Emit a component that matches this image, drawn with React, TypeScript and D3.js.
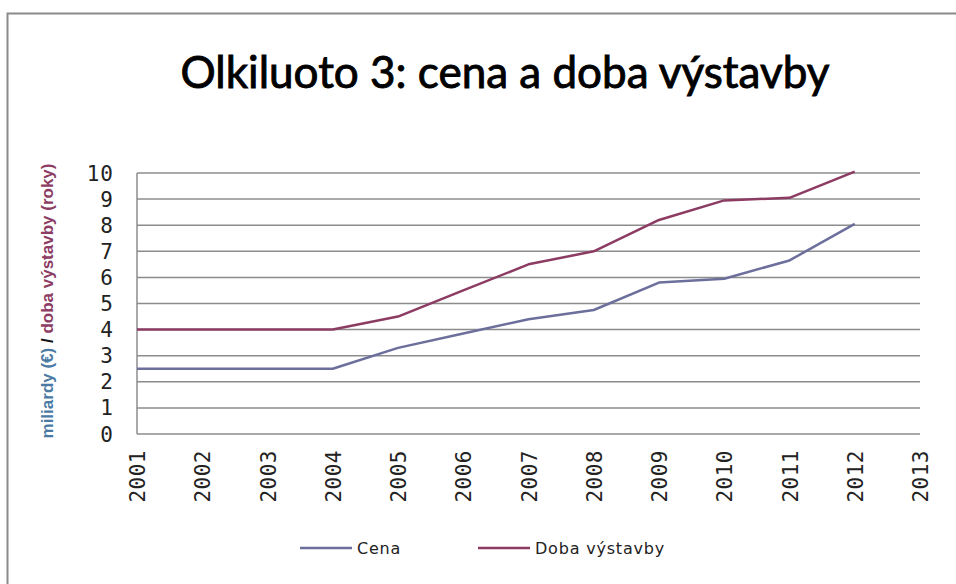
import React from "react";
import * as d3 from "d3";

const years = ["2001","2002","2003","2004","2005","2006","2007","2008","2009","2010","2011","2012","2013"];
const cena = [2.5, 2.5, 2.5, 2.5, 3.3, 3.85, 4.4, 4.75, 5.8, 5.95, 6.65, 8.05];
const doba = [4, 4, 4, 4, 4.5, 5.5, 6.5, 7.0, 8.2, 8.95, 9.05, 10.05];
const yTicks = [0,1,2,3,4,5,6,7,8,9,10];
const seriesNames = ["Cena", "Doba výstavby"];
const colors = ["#6c6f9c", "#8c3b62"];

export default function App() {
  const W = 956, H = 584;
  const left = 137, right = 920, top = 173, bottom = 434;
  const x = d3.scalePoint<string>().domain(years).range([left, right]);
  const y = d3.scaleLinear().domain([0, 10]).range([bottom, top]);
  const line = d3.line<number>().x((_, i) => x(years[i])!).y(d => y(d));
  const series = [cena, doba];

  return (
    <svg width={W} height={H} style={{ position: "absolute", left: 0, top: 0, background: "#fff" }}>
      <rect x={7.5} y={13.5} width={1000} height={700} fill="#fff" stroke="#8a8a8a" strokeWidth={2} />
      <text x={505} y={88} textAnchor="middle" fontFamily="Lato, 'Open Sans', sans-serif" fontSize={44}
        fill="#000" stroke="#000" strokeWidth={0.9}>
        Olkiluoto 3: cena a doba výstavby
      </text>
      {yTicks.map(t => (
        <g key={t}>
          <line x1={left} x2={right} y1={y(t)} y2={y(t)} stroke="#8c8c8c" strokeWidth={1.5} />
          <text x={114} y={y(t)} dy="0.36em" textAnchor="end" fontFamily="'DejaVu Sans Mono', monospace" fontSize={21} letterSpacing={1} fill="#222">{t}</text>
        </g>
      ))}
      <line x1={left} x2={left} y1={top} y2={bottom} stroke="#8c8c8c" strokeWidth={1.5} />
      {years.map(yr => (
        <text key={yr} transform={`translate(${x(yr)! + 8},${450}) rotate(-90)`} textAnchor="end"
          fontFamily="'DejaVu Sans Mono', monospace" fontSize={21} letterSpacing={0.5} fill="#222">{yr}</text>
      ))}
      {series.map((s, i) => (
        <path key={i} d={line(s)!} fill="none" stroke={colors[i]} strokeWidth={2.5} strokeLinejoin="round" />
      ))}
      <text transform={`translate(53,${301}) rotate(-90)`} textAnchor="middle" fontFamily="'Liberation Sans', sans-serif" fontWeight="bold" fontSize={17}>
        <tspan fill="#4a7aa3">miliardy (€)</tspan>
        <tspan fill="#111"> / </tspan>
        <tspan fill="#8c3b62">doba výstavby (roky)</tspan>
      </text>
      {seriesNames.map((n, i) => {
        const lx = i === 0 ? 300 : 478;
        return (
          <g key={n}>
            <line x1={lx} x2={lx + 52} y1={548} y2={548} stroke={colors[i]} strokeWidth={2.5} />
            <text x={lx + 57} y={548} dy="0.35em" fontFamily="'DejaVu Sans', sans-serif" fontSize={16} letterSpacing={0.8} fill="#222">{n}</text>
          </g>
        );
      })}
    </svg>
  );
}
